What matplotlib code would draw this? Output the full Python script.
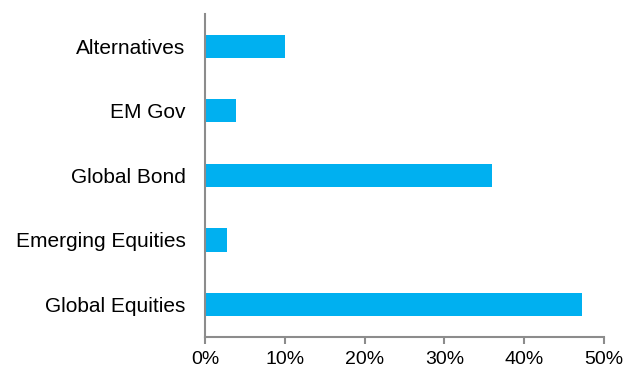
import matplotlib.pyplot as plt
from matplotlib.ticker import PercentFormatter

categories = ['Global Equities', 'Emerging Equities', 'Global Bond', 'EM Gov', 'Alternatives']
weights = [47.2, 2.7, 36.0, 3.9, 10.0]
xticks = [0, 10, 20, 30, 40, 50]

plt.rcParams['font.family'] = ['Liberation Sans', 'DejaVu Sans']

fig = plt.figure(figsize=(6.34, 3.70), dpi=100)
ax = fig.add_axes([205 / 634, 1 - 336.7 / 370, 399 / 634, (336.7 - 14) / 370])

ax.barh(range(len(categories)), weights, height=0.36, color='#00B0F0')

ax.set_xlim(0, 50)
ax.set_ylim(-0.5, len(categories) - 0.5)
ax.set_xticks(xticks)
ax.xaxis.set_major_formatter(PercentFormatter(decimals=0))
ax.set_yticks(range(len(categories)))
ax.set_yticklabels(categories)

for side in ['top', 'right']:
    ax.spines[side].set_visible(False)
for side in ['left', 'bottom']:
    ax.spines[side].set_color('#8c8c8c')
    ax.spines[side].set_linewidth(1.5)

ax.tick_params(axis='x', colors='#8c8c8c', length=5, width=1.5, labelcolor='black', labelsize=14, pad=5.5)
ax.tick_params(axis='y', length=0, labelcolor='black', labelsize=15, pad=14)

fig.savefig('out.png', dpi=100)
